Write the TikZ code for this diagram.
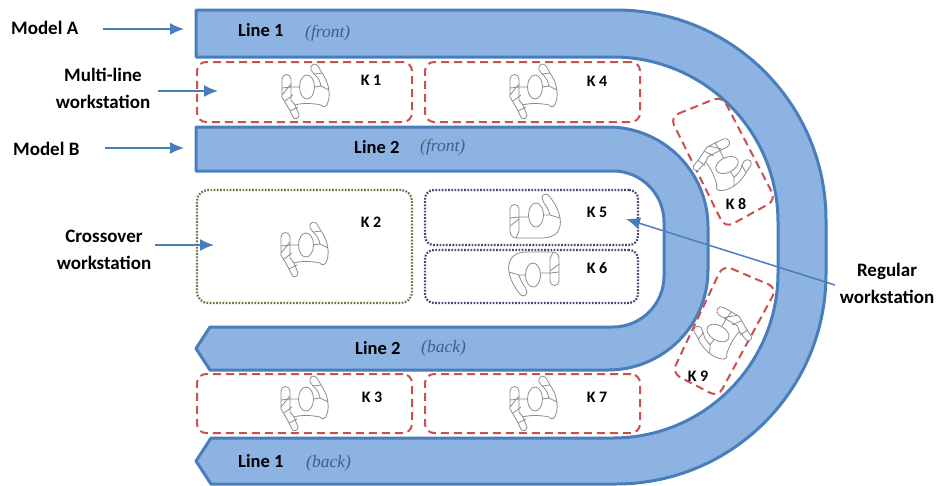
\documentclass[tikz,border=0pt]{standalone}
\usepackage{fontspec}
\setmainfont{Carlito}
\newfontfamily\serifit{Liberation Serif}
\usetikzlibrary{arrows.meta}
\definecolor{beltfill}{HTML}{8DB3E2}
\definecolor{beltline}{HTML}{4A7EBB}
\definecolor{redbox}{HTML}{C9504F}
\definecolor{olivebox}{HTML}{6E7348}
\definecolor{navybox}{HTML}{47436F}
\definecolor{personc}{HTML}{8C8C8C}
\definecolor{noteblue}{HTML}{3F5F85}
\tikzset{
  belt/.style={fill=beltfill,draw=beltline,line width=3pt,line join=round},
  lab/.style={font=\fontsize{19}{20}\selectfont\bfseries,align=center,text=black,inner sep=0pt},
  klab/.style={font=\fontsize{16}{17}\selectfont\bfseries,text=black,inner sep=0pt},
  linelab/.style={font=\fontsize{18.5}{19}\selectfont\bfseries,text=black,inner sep=0pt},
  note/.style={font=\fontsize{17.5}{18}\serifit\itshape,text=noteblue,inner sep=0pt},
  redd/.style={draw=redbox,line width=2pt,dash pattern=on 8pt off 5pt,rounded corners=9pt},
  oliv/.style={draw=olivebox,line width=2.2pt,dash pattern=on 1.7pt off 1.5pt,rounded corners=11pt},
  navy/.style={draw=navybox,line width=2.2pt,dash pattern=on 1.7pt off 1.5pt,rounded corners=9pt},
  box/.style={inner sep=0pt,minimum width=#1},
  arr/.style={draw=beltline,line width=1.5pt,-{Latex[length=14pt,width=12pt]}},
  pics/worker/.style={code={
    \begin{scope}[draw=personc,line width=.8pt,fill=white,line join=round]
      \filldraw (-25,-8) .. controls (-25,-14) and (-16,-14) .. (-16,-8) -- (-16,0) -- (-7,0)
        -- (7,0) -- (14,-1) .. controls (13,-6) and (11,-10) .. (7,-13)
        -- (4,-17) .. controls (3,-24) and (9,-24) .. (11,-21) -- (15,-14)
        .. controls (21,-6) and (24,6) .. (21,15) .. controls (20,20) and (16,21) .. (14,18)
        .. controls (5,16) and (-6,16) .. (-12,18) -- (-8,28) .. controls (-8,32) and (-13,33) .. (-14,30)
        -- (-18,22) -- (-25,10) -- cycle;
      \draw (-25,1) -- (-16,0) (-25,8) -- (-16,-3) (-16,0) -- (-16,13) -- (-12,18)
        (-22,14) -- (-14,8) (-17,24) -- (-9,20) (14,-1) -- (22,3) (7,-13) -- (15,-14);
      \filldraw (0,0) ellipse [x radius=7.5,y radius=12];
    \end{scope}
  }},
  pics/workerb/.style={code={
    \begin{scope}[draw=personc,line width=.8pt,fill=white,line join=round]
      \filldraw (-26,-6) .. controls (-26,-12) and (-17,-12) .. (-17,-6) -- (-17,2) -- (-7,2)
        -- (7,0) -- (14,0) .. controls (13,-4) and (11,-8) .. (8,-12)
        -- (6,-17) .. controls (6,-22) and (12,-22) .. (14,-18)
        .. controls (22,-8) and (27,6) .. (23,14) .. controls (20,22) and (12,23) .. (4,23)
        -- (-20,23) .. controls (-26,22) and (-26,18) .. (-26,14) -- cycle;
      \draw (-26,3) -- (-17,2) (-26,11) -- (-17,4) (-17,2) -- (-17,16) -- (-20,23)
        (14,0) -- (24,3);
      \filldraw (0,0) ellipse [x radius=7.5,y radius=12];
    \end{scope}
  }}
}
\begin{document}
\begin{tikzpicture}[x=1pt,y=-1pt]
\useasboundingbox (0,0) rectangle (936,485);
% Belts
\path[belt] (196,10) -- (616,10) arc[start angle=-90,end angle=0,radius=210] -- (826,274) arc[start angle=0,end angle=90,radius=210]
  -- (211,484) -- (196,461) -- (211,438)
  -- (613,438) arc[start angle=90,end angle=0,radius=165] -- (778,222) arc[start angle=0,end angle=-90,radius=165]
  -- (196,57) -- cycle;
\path[belt] (196,127) -- (608,127) arc[start angle=-90,end angle=0,radius=100] -- (708,270) arc[start angle=0,end angle=90,radius=100]
  -- (210,370) -- (196,348.5) -- (210,327)
  -- (613,327) arc[start angle=90,end angle=0,radius=51] -- (664,222) arc[start angle=0,end angle=-90,radius=51]
  -- (196,171) -- cycle;
% Workstation boxes
\node[redd,box=215pt,minimum height=60pt] (k1box) at (304.5,92) {};
\node[redd,box=215pt,minimum height=60pt] (k4box) at (532.5,92) {};
\node[oliv,box=215pt,minimum height=113pt] (k2box) at (304.5,246.5) {};
\node[navy,box=213pt,minimum height=55pt] (k5box) at (531.5,217.5) {};
\node[navy,box=213pt,minimum height=53pt] (k6box) at (531.5,276.5) {};
\node[redd,box=215pt,minimum height=59pt] (k3box) at (304.5,403.5) {};
\node[redd,box=215pt,minimum height=59pt] (k7box) at (532.5,403.5) {};
\draw[redd] (670,117) -- (722,96) -- (776,200) -- (725,228) -- cycle;
\draw[redd] (723,265) -- (777,288) -- (718,397) -- (672,373) -- cycle;
% Workers
\pic at (307,87) {worker};
\pic at (535,87) {worker};
\pic at (306,245) {worker};
\pic at (306,399) {worker};
\pic at (535,399) {worker};
\pic at (536,215) {workerb};
\pic[rotate=180] at (533,275) {workerb};
\pic[rotate=-64] at (727,165) {worker};
\pic[rotate=60,xscale=-1] at (718,333) {worker};
% Labels
\node[klab] (k1) at (371,80) {K 1};
\node[klab] (k4) at (597,81) {K 4};
\node[klab] (k2) at (371,222) {K 2};
\node[klab] (k5) at (597,212) {K 5};
\node[klab] (k6) at (597,268) {K 6};
\node[klab] (k3) at (372,397) {K 3};
\node[klab] (k7) at (597,397) {K 7};
\node[klab] (k8) at (736,204) {K 8};
\node[klab] (k9) at (698,376) {K 9};
\node[linelab,anchor=west] (l1f) at (238,30) {Line 1};
\node[note,anchor=west] (n1f) at (305,33) {(front)};
\node[linelab,anchor=west] (l2f) at (354,147) {Line 2};
\node[note,anchor=west] (n2f) at (420,147) {(front)};
\node[linelab,anchor=west] (l2b) at (355,348) {Line 2};
\node[note,anchor=west] (n2b) at (421,348) {(back)};
\node[linelab,anchor=west] (l1b) at (238,461) {Line 1};
\node[note,anchor=west] (n1b) at (306,463) {(back)};
\node[lab,anchor=west] (ma) at (11,28) {Model A};
\node[lab,anchor=west] (mb) at (13,149) {Model B};
\node[lab] (ml) at (103,88) {Multi-line\\[7pt]workstation};
\node[lab] (cr) at (104,250) {Crossover\\[7pt]workstation};
\node[lab] (rg) at (887,283) {Regular\\[7pt]workstation};
% Arrow ends
\coordinate (ea) at (184,29);
\coordinate (eb) at (184,148);
\coordinate (em) at (218,91);
\coordinate (ec) at (214,245);
\coordinate (er) at (626,219);
\coordinate (sa) at (103,29);
\coordinate (sb) at (105,148);
\coordinate (sm) at (158,91);
\coordinate (sc) at (155,245);
\coordinate (sr) at (835,285);
\draw[arr] (sa) -- (ea);
\draw[arr] (sb) -- (eb);
\draw[arr] (sm) -- (em);
\draw[arr] (sc) -- (ec);
\draw[arr] (sr) -- (er);
\end{tikzpicture}
\end{document}
